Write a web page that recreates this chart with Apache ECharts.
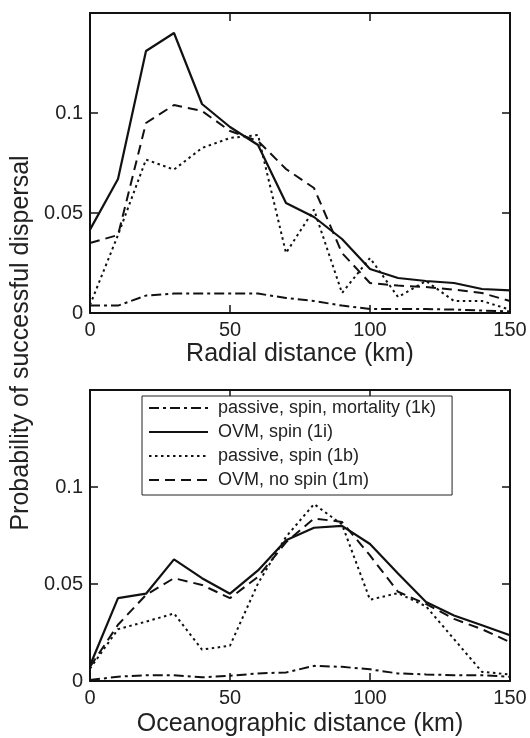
<!DOCTYPE html>
<html>
<head>
<meta charset="utf-8">
<script src="https://cdn.jsdelivr.net/npm/echarts@6/dist/echarts.min.js"></script>
<style>html,body{margin:0;padding:0;background:#fff}#c{width:530px;height:738px}</style>
</head>
<body>
<div id="c"></div>
<script>
// distances (km)
var distance = [0,10,20,30,40,50,60,70,80,90,100,110,120,130,140,150];
var xTicks = [0,50,100,150];
var yTicks = [0,0.05,0.1];

var seriesNames = ['passive, spin, mortality (1k)','OVM, spin (1i)','passive, spin (1b)','OVM, no spin (1m)'];

// Top panel: radial distance
var radMortality = [0.0037,0.0037,0.0087,0.0097,0.0097,0.0097,0.0097,0.0075,0.006,0.0037,0.002,0.002,0.002,0.0017,0.0012,0.0008];
var radOvmSpin   = [0.0417,0.067,0.131,0.140,0.1045,0.093,0.084,0.055,0.048,0.037,0.022,0.0175,0.016,0.015,0.012,0.0113];
var radPassive   = [0.004,0.039,0.0767,0.0717,0.0825,0.0875,0.089,0.030,0.0517,0.010,0.0275,0.008,0.016,0.006,0.006,0.0017];
var radOvmNoSpin = [0.035,0.039,0.095,0.104,0.101,0.091,0.086,0.072,0.0625,0.030,0.015,0.0137,0.013,0.0117,0.010,0.006];

// Bottom panel: oceanographic distance
var oceMortality = [0.0005,0.0022,0.003,0.003,0.0019,0.0027,0.0039,0.0044,0.0078,0.0073,0.006,0.0039,0.0034,0.003,0.003,0.0022];
var oceOvmSpin   = [0.008,0.0427,0.045,0.0627,0.053,0.045,0.057,0.0726,0.079,0.080,0.0706,0.0554,0.0407,0.0338,0.0287,0.0236];
var occPassive   = [0.0064,0.0267,0.0306,0.0348,0.0162,0.0182,0.0503,0.0743,0.0912,0.0807,0.0419,0.0453,0.0385,0.0216,0.0047,0.0034];
var oceOvmNoSpin = [0.0073,0.029,0.0444,0.053,0.0495,0.0427,0.0537,0.0715,0.0838,0.082,0.0647,0.046,0.0397,0.032,0.0267,0.020];

var lineTypes = [[10,4,3,4],'solid',[2.5,3.5],[10,6]];
var lineWidths = [2,2.2,2,2];
var ink = '#111';
var textCol = '#222';
var FONT = 'Liberation Sans, Arial, Helvetica, sans-serif';

function pairs(ys){ return distance.map(function(x,i){ return [x, ys[i]]; }); }

function xAx(gi, pos, name, gap){
  var a = {
    type:'value', gridIndex:gi, position:pos, min:0, max:150, interval:50,
    axisLine:{show:true, onZero:false, lineStyle:{color:ink, width:2}},
    axisTick:{show:true, inside:true, length:8, lineStyle:{color:ink, width:1.5}},
    splitLine:{show:false},
    axisLabel:{show: pos==='bottom', color:textCol, fontSize:20, fontFamily:FONT, margin:7}
  };
  if (name){
    a.name = name; a.nameLocation='middle'; a.nameGap=gap;
    a.nameTextStyle = {color:textCol, fontSize:25, fontFamily:FONT};
  }
  return a;
}
function yAx(gi, pos){
  return {
    type:'value', gridIndex:gi, position:pos, min:0, max:0.15, interval:0.05,
    axisLine:{show:true, onZero:false, lineStyle:{color:ink, width:2}},
    axisTick:{show:true, inside:true, length:8, lineStyle:{color:ink, width:1.5}},
    splitLine:{show:false},
    axisLabel:{show: pos==='left', color:textCol, fontSize:20, fontFamily:FONT, margin:7, showMaxLabel:false,
      formatter:function(v){ return yTicks.indexOf(+v.toFixed(4))>=0 ? String(+v.toFixed(4)) : ''; }}
  };
}

var topData = [radMortality, radOvmSpin, radPassive, radOvmNoSpin];
var botData = [oceMortality, oceOvmSpin, occPassive, oceOvmNoSpin];

var series = [];
[topData, botData].forEach(function(set, gi){
  set.forEach(function(ys, k){
    series.push({
      type:'line', name:seriesNames[k], xAxisIndex:gi*2, yAxisIndex:gi*2,
      data:pairs(ys), symbol:'none', silent:true, animation:false,
      lineStyle:{color:ink, width:lineWidths[k], type:lineTypes[k]},
      itemStyle:{color:ink}
    });
  });
});

var chart = echarts.init(document.getElementById('c'), null, {renderer:'canvas'});
chart.setOption({
  animation:false,
  backgroundColor:'#fff',
  grid:[
    {left:90, top:13, width:420, height:300},
    {left:90, top:390, width:420, height:296}
  ],
  xAxis:[
    xAx(0,'bottom','Radial distance (km)',29), xAx(0,'top'),
    xAx(1,'bottom','Oceanographic distance (km)',31), xAx(1,'top')
  ],
  yAxis:[
    yAx(0,'left'), yAx(0,'right'),
    yAx(1,'left'), yAx(1,'right')
  ],
  legend:{
    data:seriesNames, orient:'vertical', left:142, top:396,
    itemWidth:59, itemHeight:14, itemGap:2,
    padding:[1,16,4,6],
    borderColor:'#222', borderWidth:1, backgroundColor:'#fff',
    selectedMode:false,
    itemStyle:{opacity:0, color:'rgba(0,0,0,0)', borderWidth:0},
    textStyle:{color:textCol, fontSize:18, fontFamily:FONT, lineHeight:22, padding:[0,0,0,5]}
  },
  graphic:[{
    type:'text', x:21, y:343, rotation:Math.PI/2,
    style:{text:'Probability of successful dispersal', fill:textCol, font:'25px '+FONT, textAlign:'center', textVerticalAlign:'middle'}
  }],
  series:series
});
</script>
</body>
</html>
